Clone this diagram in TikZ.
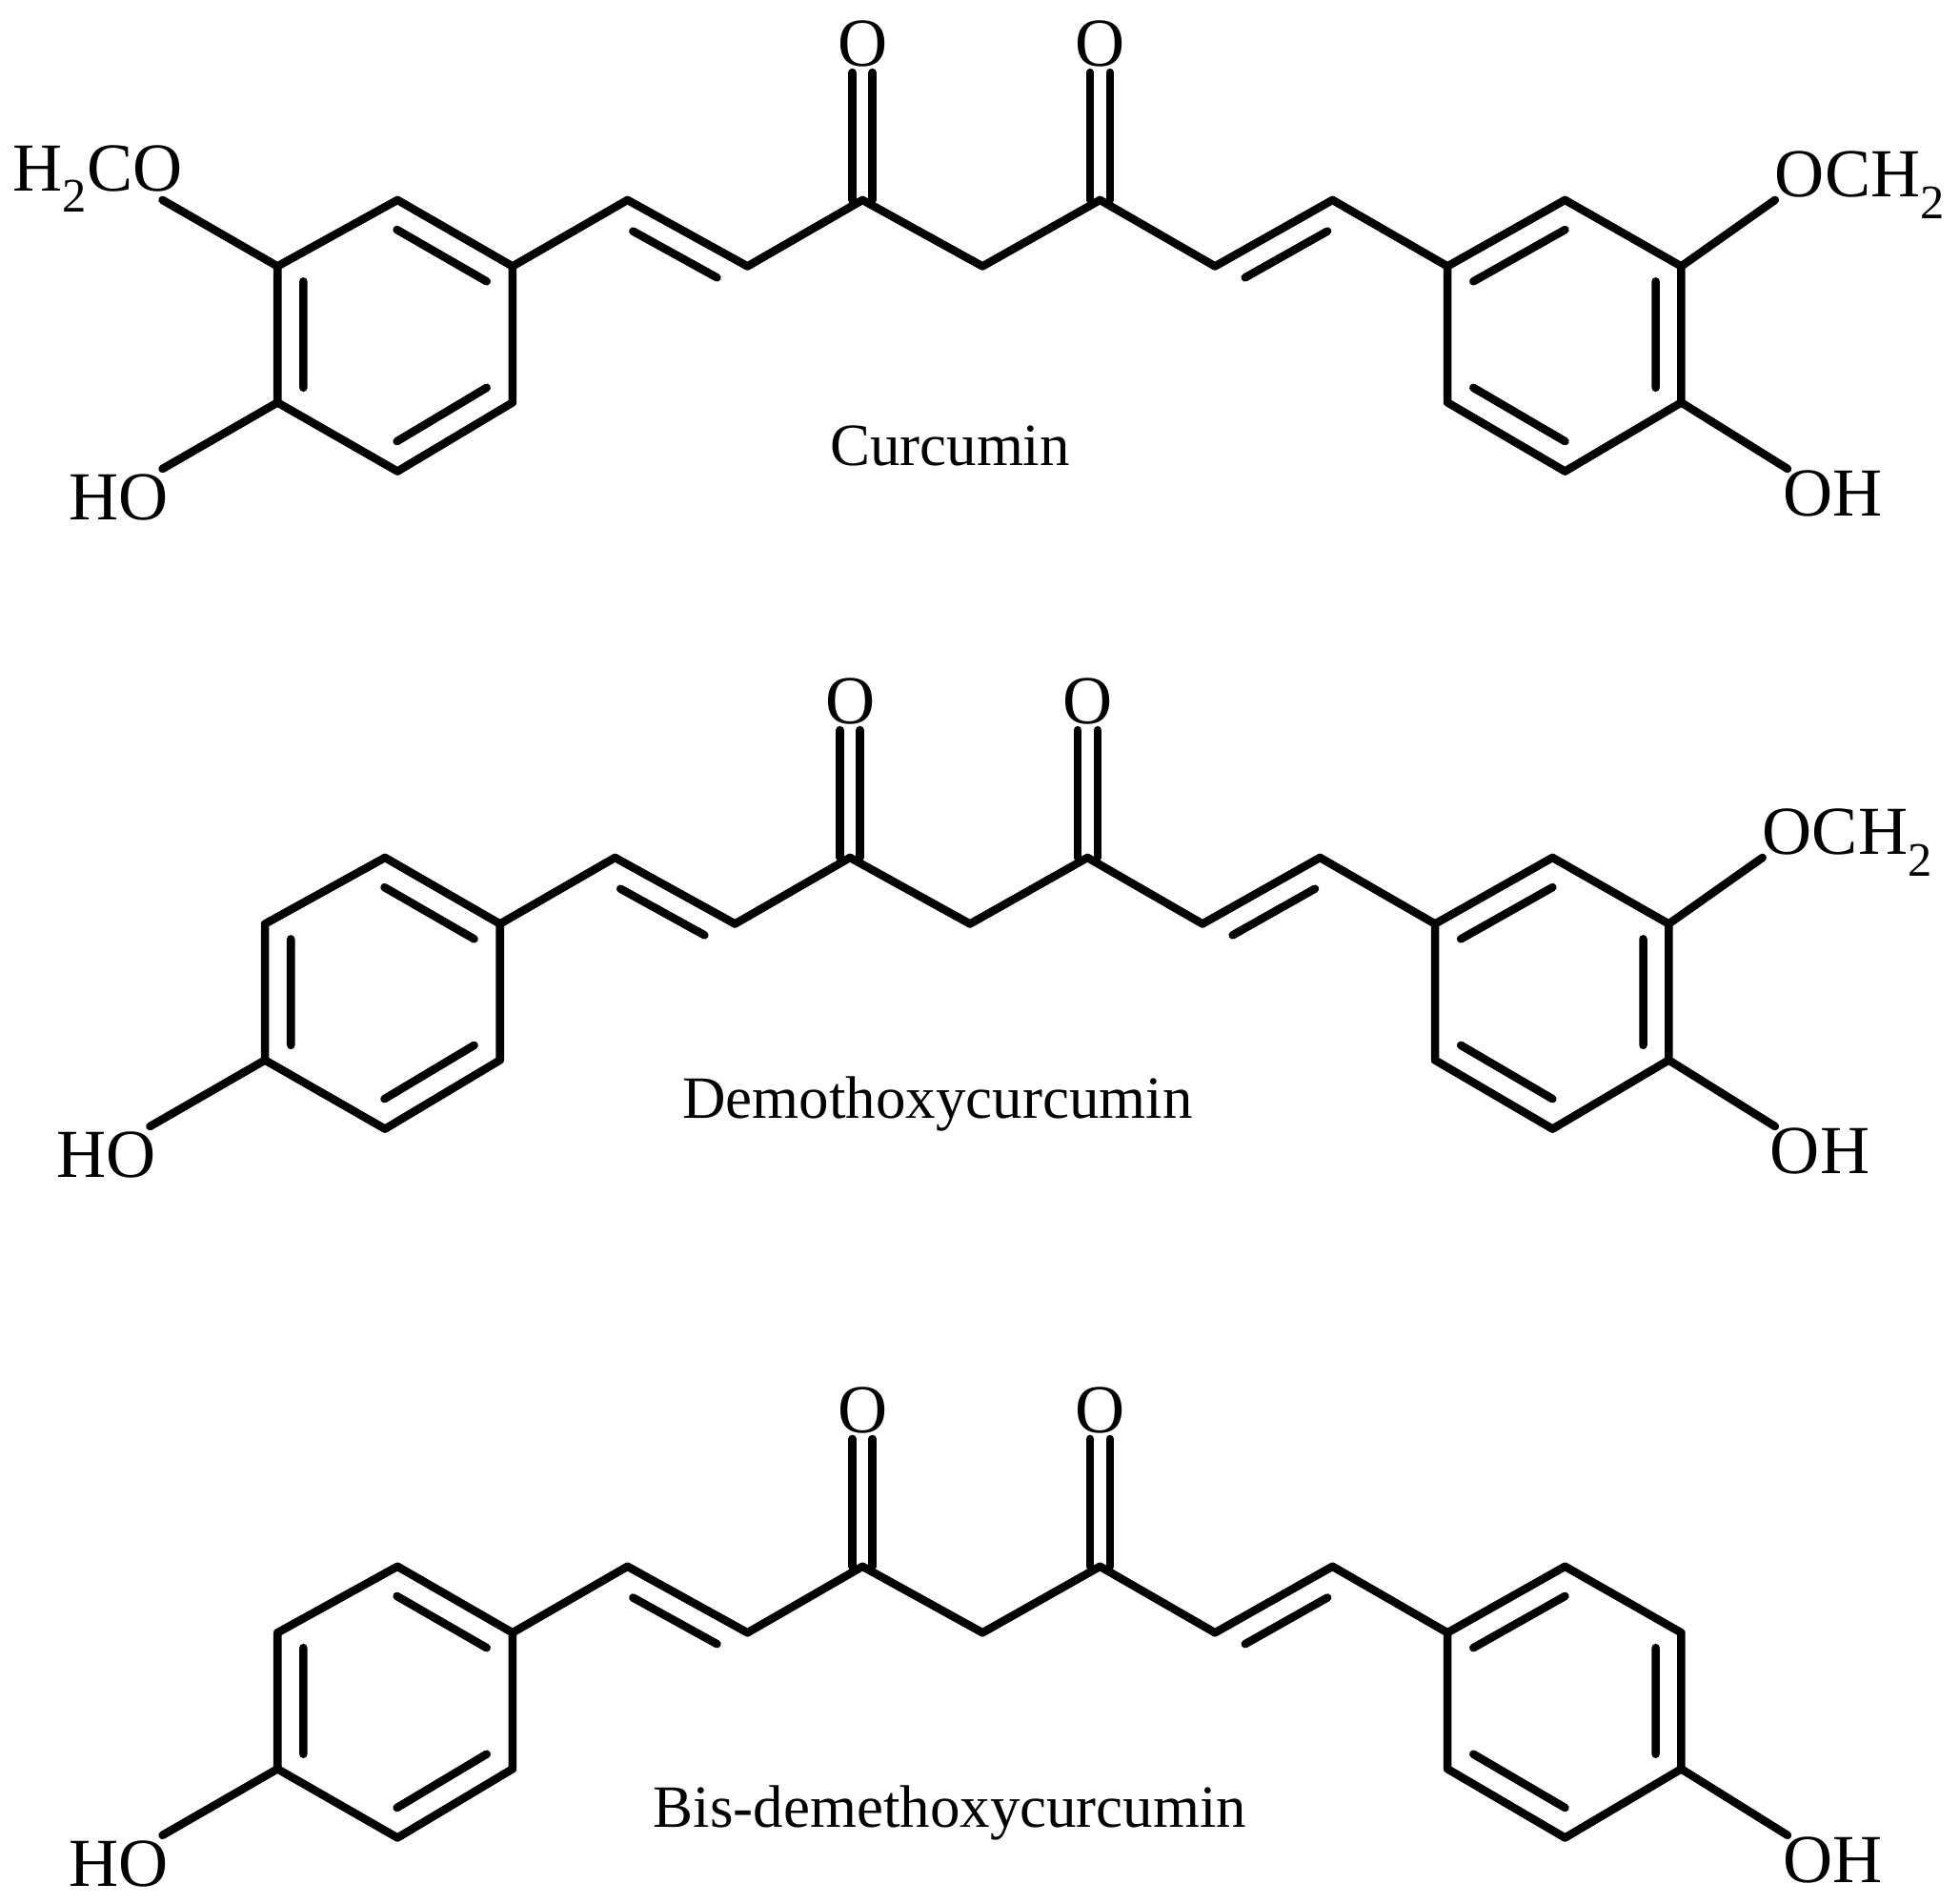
\documentclass[tikz,border=0pt]{standalone}
\usepackage{fontspec}
\setmainfont{Liberation Serif}
\usetikzlibrary{calc}
\tikzset{bond/.style={line width=6.5pt,line cap=round,line join=round},
 atom/.style={font=\fontsize{55}{60}\selectfont,inner sep=0pt},
 title/.style={font=\fontsize{48}{52}\selectfont,inner sep=0pt}}
\newcommand\molecule[5]{%
\begin{scope}[shift={(#1,#2)}]
\coordinate (L1) at (318,160); \coordinate (L2) at (410,213); \coordinate (L3) at (410,322);
\coordinate (L4) at (318,377); \coordinate (L5) at (222,322); \coordinate (L6) at (222,213);
\coordinate (LC) at (316,268);
\coordinate (C1) at (502,160); \coordinate (C2) at (598,213); \coordinate (C3) at (690,160);
\coordinate (O1) at (690,58); \coordinate (C4) at (786,213); \coordinate (C5) at (880,160);
\coordinate (O2) at (880,58); \coordinate (C6) at (972,213); \coordinate (C7) at (1066,160);
\coordinate (R1) at (1158,213); \coordinate (R2) at (1252,160); \coordinate (R3) at (1345,213);
\coordinate (R4) at (1345,322); \coordinate (R5) at (1252,377); \coordinate (R6) at (1158,322);
\coordinate (RC) at (1252,268);
\draw[bond] (L1)--(L2)--(L3)--(L4)--(L5)--(L6)--cycle;
\draw[bond] (R1)--(R2)--(R3)--(R4)--(R5)--(R6)--cycle;
\draw[bond] ($(LC)!.78!(L1)$)--($(LC)!.78!(L2)$) ($(LC)!.78!(L3)$)--($(LC)!.78!(L4)$) ($(LC)!.78!(L5)$)--($(LC)!.78!(L6)$);
\draw[bond] ($(RC)!.78!(R1)$)--($(RC)!.78!(R2)$) ($(RC)!.78!(R3)$)--($(RC)!.78!(R4)$) ($(RC)!.78!(R5)$)--($(RC)!.78!(R6)$);
\draw[bond] (L2)--(C1)--(C2)--(C3)--(C4)--(C5)--(C6)--(C7)--(R1);
\draw[bond] ($(C1)!.15!(C2)+(-10,17)$)--($(C1)!.85!(C2)+(-10,17)$);
\draw[bond] ($(C6)!.15!(C7)+(10,17)$)--($(C6)!.85!(C7)+(10,17)$);
\draw[bond] ($(C3)+(-8,0)$)--($(O1)+(-8,0)$) ($(C3)+(8,0)$)--($(O1)+(8,0)$);
\draw[bond] ($(C5)+(-8,0)$)--($(O2)+(-8,0)$) ($(C5)+(8,0)$)--($(O2)+(8,0)$);
\node[atom] (oa) at (690,35) {O};
\node[atom] (ob) at (880,35) {O};
\coordinate (HOL) at (130,375); \coordinate (OHR) at (1430,375);
\draw[bond] (L5)--(HOL); \draw[bond] (R4)--(OHR);
\node[atom] (ho) at (95,398) {HO};
\node[atom] (oh) at (1466,395) {OH};
\ifnum#3=1
\coordinate (ML) at (130,160); \draw[bond] (L6)--(ML);
\node[atom] (meL) at (78,143) {H\textsubscript{2}CO};
\fi
\ifnum#4=1
\coordinate (MR) at (1420,160); \draw[bond] (R3)--(MR);
\node[atom] (meR) at (1488,148) {OCH\textsubscript{2}};
\fi
\node[title] (t) at (760,357) {#5};
\end{scope}}
\begin{document}
\begin{tikzpicture}[x=1pt,y=-1pt]
\useasboundingbox (0,0) rectangle (1568,1523);
\molecule{0}{0}{1}{1}{Curcumin}
\molecule{-10}{526}{0}{1}{Demothoxycurcumin}
\molecule{0}{1093}{0}{0}{Bis-demethoxycurcumin}
\end{tikzpicture}
\end{document}
